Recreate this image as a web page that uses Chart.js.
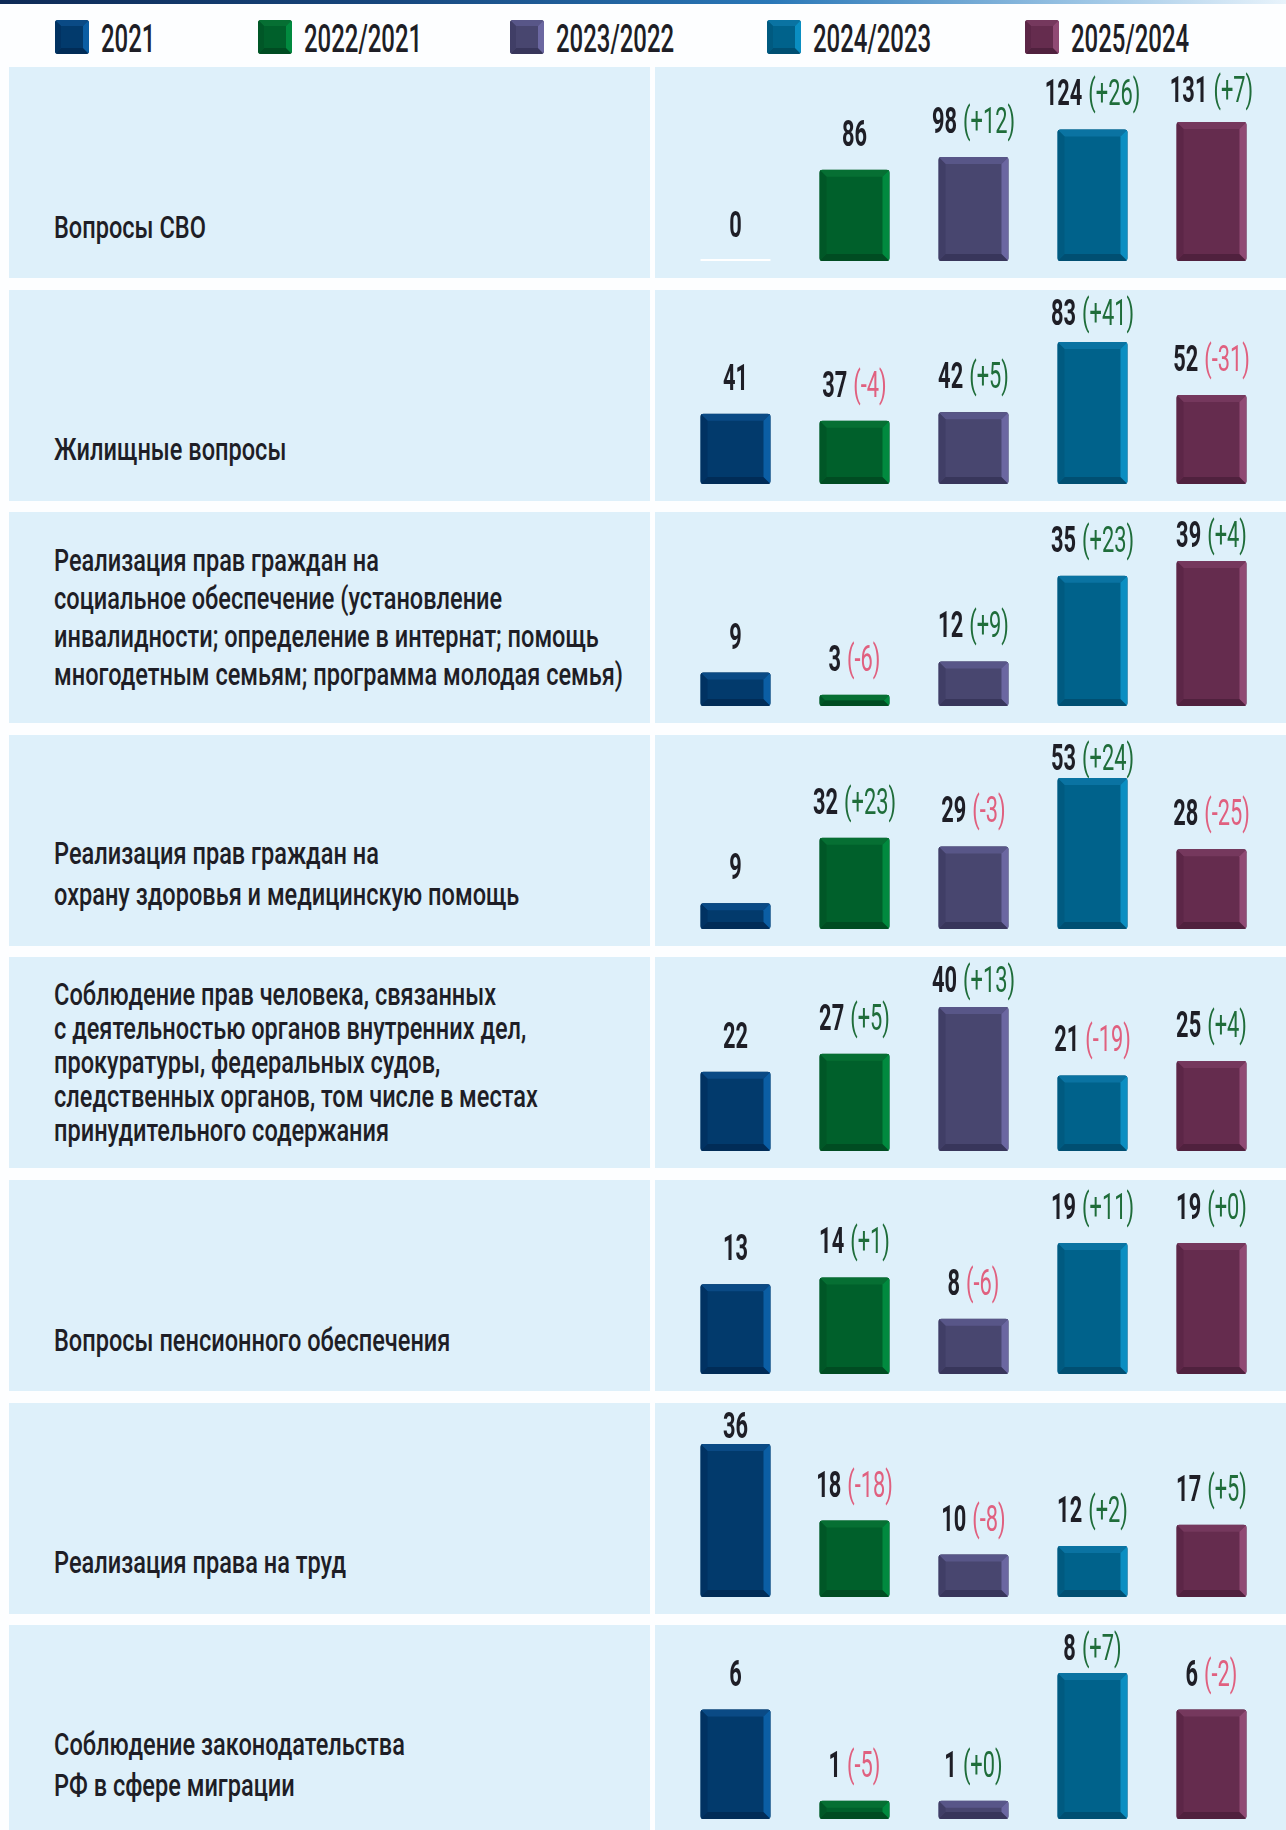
<!DOCTYPE html>
<html lang="ru">
<head>
<meta charset="utf-8">
<title>Темы обращений 2021–2025</title>
<script src="https://cdn.jsdelivr.net/npm/chart.js@4.4.1/dist/chart.umd.min.js"></script>
<style>
  html, body { margin: 0; padding: 0; background: #fdfeff; }
  body {
    position: relative; width: 1286px; height: 1830px; overflow: hidden;
    font-family: Roboto, 'Noto Sans', sans-serif; color: #1e1e26;
  }
  .topbar {
    position: absolute; left: 0; top: 0; width: 1286px; height: 4px;
    background: linear-gradient(90deg, #0e2a56 0%, #17477e 30%, #2a78b8 60%, #9fc7e6 85%, #e8f3fb 100%);
  }
  .legend-item { position: absolute; top: 20px; height: 34px; }
  .legend-item canvas { position: absolute; left: 0; top: 0; }
  .legend-item span {
    position: absolute; left: 46px; top: -4px; font-size: 38px; line-height: 46px;
    font-weight: 500; white-space: nowrap; transform: scaleX(0.63); transform-origin: 0 50%;
  }
  .panel { position: absolute; height: 211px; background: #def0fa; }
  .panel.left { left: 9px; width: 641px; }
  .panel.right { left: 655px; width: 631px; }
  .row-label { position: absolute; left: 54px; font-size: 31px; font-weight: 500; }
  .row-label div { white-space: nowrap; transform: scaleX(0.76); transform-origin: 0 50%; }
  .row-chart { position: absolute; left: 676px; }
</style>
</head>
<body>
<div class="topbar"></div>

<script>
// Row categories, split into lines as in the original
const categories = [
  ['Вопросы СВО'],
  ['Жилищные вопросы'],
  ['Реализация прав граждан на', 'социальное обеспечение (установление', 'инвалидности; определение в интернат; помощь', 'многодетным семьям; программа молодая семья)'],
  ['Реализация прав граждан на', 'охрану здоровья и медицинскую помощь'],
  ['Соблюдение прав человека, связанных', 'с деятельностью органов внутренних дел,', 'прокуратуры, федеральных судов,', 'следственных органов, том числе в местах', 'принудительного содержания'],
  ['Вопросы пенсионного обеспечения'],
  ['Реализация права на труд'],
  ['Соблюдение законодательства', 'РФ в сфере миграции']
];

const seriesLabels = ['2021', '2022/2021', '2023/2022', '2024/2023', '2025/2024'];

const values2021 = [0, 41, 9, 9, 22, 13, 36, 6];
const values2022 = [86, 37, 3, 32, 27, 14, 18, 1];
const values2023 = [98, 42, 12, 29, 40, 8, 10, 1];
const values2024 = [124, 83, 35, 53, 21, 19, 12, 8];
const values2025 = [131, 52, 39, 28, 25, 19, 17, 6];

const series = [values2021, values2022, values2023, values2024, values2025];

// Bar colours: face plus the four bevel sides
const palettes = [
  { face: '#023a6c', top: '#0a4a85', right: '#0b5ea4', left: '#013262', bottom: '#012c57' },
  { face: '#00602b', top: '#066f33', right: '#018a3f', left: '#005727', bottom: '#004c22' },
  { face: '#48466f', top: '#585688', right: '#6b67a1', left: '#403e66', bottom: '#38365b' },
  { face: '#00628b', top: '#0a73a2', right: '#0a8ec2', left: '#005a80', bottom: '#004f72' },
  { face: '#652c4e', top: '#75385d', right: '#904a74', left: '#5c2647', bottom: '#50213e' }
];

// Layout
const ROW_TOP = 67, ROW_PITCH = 222.6, ROW_H = 211, PLOT_H = 194;
const PLOT_W = 595;
// every row has its own scale: pixel height of the tallest bar in that row
const tallestBarPx = [139, 142, 145, 151, 144, 131, 153, 146];
const lineHeights = { 1: 41, 2: 41, 3: 38, 4: 38, 5: 34 };
const legendLeft = [55, 258, 510, 767, 1025];

const TEXT_DARK = '#1e1e26';
const UP_COLOR = '#1f6d3a';
const DOWN_COLOR = '#e0607f';

function fillPoly(ctx, color, pts) {
  ctx.fillStyle = color;
  ctx.beginPath();
  ctx.moveTo(pts[0][0], pts[0][1]);
  for (let k = 1; k < pts.length; k++) ctx.lineTo(pts[k][0], pts[k][1]);
  ctx.closePath();
  ctx.fill();
}

function drawBevel(ctx, l, t, r, b, pal, size) {
  const s = Math.min(size, (b - t) / 2, (r - l) / 2);
  ctx.save();
  ctx.beginPath();
  ctx.roundRect(l, t, r - l, b - t, 3);
  ctx.clip();
  ctx.fillStyle = pal.face;
  ctx.fillRect(l, t, r - l, b - t);
  fillPoly(ctx, pal.top, [[l, t], [r, t], [r - s, t + s], [l + s, t + s]]);
  fillPoly(ctx, pal.bottom, [[l, b], [r, b], [r - s, b - s], [l + s, b - s]]);
  fillPoly(ctx, pal.left, [[l, t], [l + s, t + s], [l + s, b - s], [l, b]]);
  fillPoly(ctx, pal.right, [[r, t], [r, b], [r - s, b - s], [r - s, t + s]]);
  ctx.restore();
}

const bevelPlugin = {
  id: 'bevel',
  afterDatasetsDraw(chart) {
    const ctx = chart.ctx;
    const values = chart.data.datasets[0].data;
    chart.getDatasetMeta(0).data.forEach((bar, j) => {
      const half = bar.width / 2;
      if (values[j] === 0) {
        // empty value: thin white line on the baseline
        ctx.fillStyle = '#ffffff';
        ctx.fillRect(bar.x - half, bar.base - 2, bar.width, 3);
        return;
      }
      drawBevel(ctx, bar.x - half, bar.y, bar.x + half, bar.base, palettes[j], 7);
    });
  }
};

const SX = 0.59;
const NUM_FONT = 'bold 37px Roboto';
const DELTA_FONT = '37px Roboto';
const LABEL_GAP = 24;
const LABEL_MIN_BASELINE = 35; // keeps the label inside the panel

function textWidth(ctx, text, font) {
  ctx.font = font;
  return ctx.measureText(text).width * SX;
}

function drawNarrow(ctx, text, x, y, font, color) {
  ctx.save();
  ctx.font = font;
  ctx.fillStyle = color;
  ctx.textBaseline = 'alphabetic';
  ctx.translate(x, y);
  ctx.scale(SX, 1);
  ctx.fillText(text, 0, 0);
  ctx.restore();
}

const valueLabelPlugin = {
  id: 'valueLabels',
  afterDatasetsDraw(chart) {
    const ctx = chart.ctx;
    const row = chart.options.rowIndex;
    chart.getDatasetMeta(0).data.forEach((bar, j) => {
      const value = series[j][row];
      const numText = String(value);
      let deltaText = '';
      if (j > 0 && series[j - 1][row] > 0) {
        const d = value - series[j - 1][row];
        deltaText = '(' + (d >= 0 ? '+' : '-') + Math.abs(d) + ')';
      }
      const numW = textWidth(ctx, numText, NUM_FONT);
      const gap = deltaText ? 6 : 0;
      const deltaW = deltaText ? textWidth(ctx, deltaText, DELTA_FONT) : 0;
      const total = numW + gap + deltaW;
      const x0 = bar.x - total / 2;
      const baseline = Math.max(bar.y - LABEL_GAP, LABEL_MIN_BASELINE);
      drawNarrow(ctx, numText, x0, baseline, NUM_FONT, TEXT_DARK);
      if (deltaText) {
        const color = deltaText.charAt(1) === '-' ? DOWN_COLOR : UP_COLOR;
        drawNarrow(ctx, deltaText, x0 + numW + gap, baseline, DELTA_FONT, color);
      }
    });
  }
};

// Legend
seriesLabels.forEach((label, j) => {
  const item = document.createElement('div');
  item.className = 'legend-item';
  item.style.left = legendLeft[j] + 'px';
  const sw = document.createElement('canvas');
  sw.width = 34;
  sw.height = 34;
  drawBevel(sw.getContext('2d'), 0, 0, 34, 34, palettes[j], 6);
  const span = document.createElement('span');
  span.textContent = label;
  item.appendChild(sw);
  item.appendChild(span);
  document.body.appendChild(item);
});

// Rows
categories.forEach((lines, i) => {
  const top = ROW_TOP + i * ROW_PITCH;

  ['left', 'right'].forEach(side => {
    const p = document.createElement('div');
    p.className = 'panel ' + side;
    p.style.top = top + 'px';
    document.body.appendChild(p);
  });

  const lh = lineHeights[lines.length];
  const blockH = lines.length * lh;
  const labelTop = Math.max(160 + lh / 2 - blockH, (ROW_H - blockH) / 2);
  const label = document.createElement('div');
  label.className = 'row-label';
  label.style.top = (top + labelTop) + 'px';
  label.style.lineHeight = lh + 'px';
  lines.forEach(line => {
    const d = document.createElement('div');
    d.textContent = line;
    label.appendChild(d);
  });
  document.body.appendChild(label);

  const rowValues = series.map(s => s[i]);
  const rowMax = Math.max(...rowValues);

  const canvas = document.createElement('canvas');
  canvas.className = 'row-chart';
  canvas.width = PLOT_W;
  canvas.height = PLOT_H;
  canvas.style.top = top + 'px';
  canvas.style.width = PLOT_W + 'px';
  canvas.style.height = PLOT_H + 'px';
  document.body.appendChild(canvas);

  new Chart(canvas, {
    type: 'bar',
    data: {
      labels: seriesLabels,
      datasets: [{
        data: rowValues,
        backgroundColor: palettes.map(p => p.face),
        borderRadius: 3,
        borderSkipped: false,
        barPercentage: 1,
        categoryPercentage: 0.588
      }]
    },
    options: {
      rowIndex: i,
      responsive: false,
      animation: false,
      events: [],
      layout: { padding: 0 },
      plugins: {
        legend: { display: false },
        tooltip: { enabled: false }
      },
      scales: {
        x: { display: false },
        y: { display: false, min: 0, max: rowMax * PLOT_H / tallestBarPx[i] }
      }
    },
    plugins: [bevelPlugin, valueLabelPlugin]
  });
});
</script>
</body>
</html>
